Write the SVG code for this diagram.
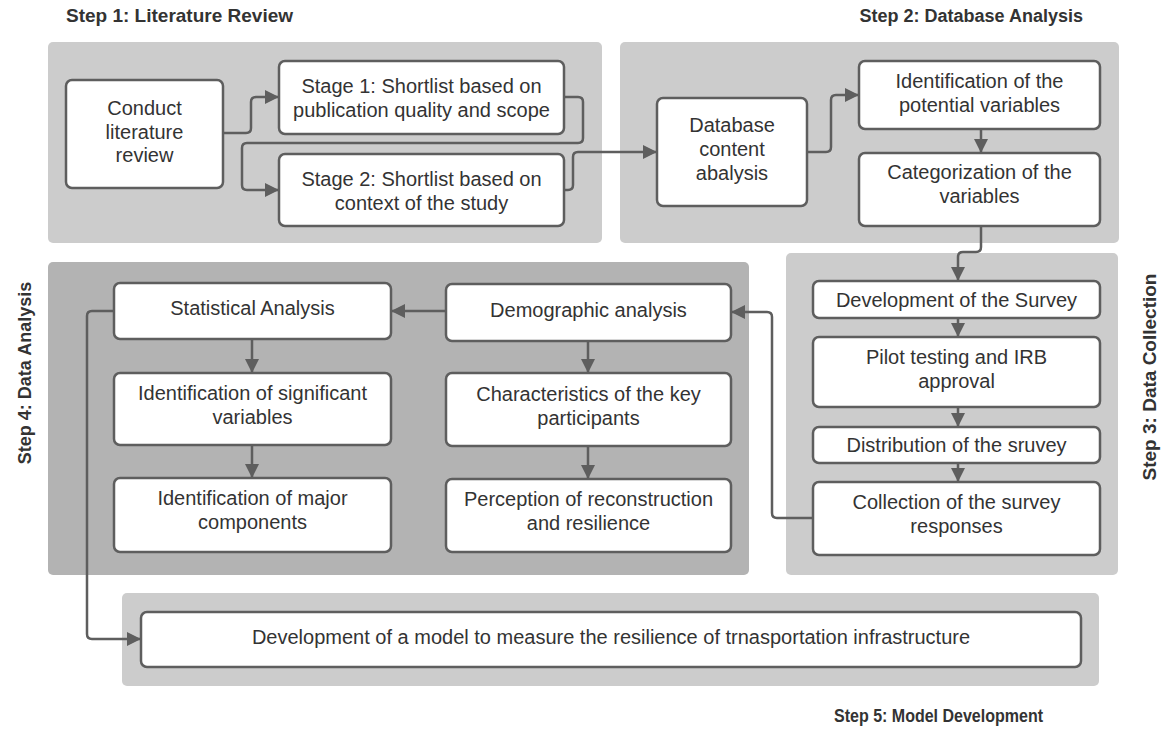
<svg xmlns="http://www.w3.org/2000/svg" width="1161" height="729" viewBox="0 0 1161 729">
  <style>
    .panel { fill: #cccccc; }
    .panel-dark { fill: #b3b3b3; }
    .box { fill: #ffffff; stroke: #5e5e5e; stroke-width: 2.5; }
    .label { font-family: "Liberation Sans", Arial, sans-serif; font-size: 20px; fill: #333333; text-anchor: middle; }
    .step { font-family: "Liberation Sans", Arial, sans-serif; font-size: 18px; font-weight: bold; fill: #333333; }
    .link { fill: none; stroke: #5e5e5e; stroke-width: 2.5; stroke-linejoin: round; marker-end: url(#arrow); }
  </style>
  <defs>
    <marker id="arrow" markerUnits="userSpaceOnUse" markerWidth="16" markerHeight="14" refX="14" refY="7" orient="auto">
      <path d="M0,0 L14,7 L0,14 Z" fill="#5e5e5e"/>
    </marker>
  </defs>

  <rect width="1161" height="729" fill="#ffffff"/>

  <!-- step panels -->
  <g id="panels">
    <rect class="panel" x="48" y="42" width="554" height="201" rx="5"/>
    <rect class="panel" x="620" y="42" width="499" height="201" rx="5"/>
    <rect class="panel-dark" x="48" y="262" width="701" height="313" rx="5"/>
    <rect class="panel" x="786" y="253" width="332" height="322" rx="5"/>
    <rect class="panel" x="122" y="593" width="977" height="93" rx="5"/>
  </g>

  <!-- step titles -->
  <g id="step-titles">
    <text class="step" x="66" y="22" style="font-size:19px">Step 1: Literature Review</text>
    <text class="step" x="1083" y="22" text-anchor="end">Step 2: Database Analysis</text>
    <text class="step" text-anchor="middle" transform="translate(1156,377) rotate(-90)" style="font-size:19px">Step 3: Data Collection</text>
    <text class="step" text-anchor="middle" transform="translate(31,373) rotate(-90)">Step 4: Data Analysis</text>
    <text class="step" x="834" y="722" textLength="209" lengthAdjust="spacingAndGlyphs">Step 5: Model Development</text>
  </g>

  <!-- connectors -->
  <g id="connectors">
    <path class="link" d="M223,133 H246 Q251,133 251,128 V102 Q251,97 256,97 H279"/>
    <path class="link" d="M564,97 H578 Q583,97 583,102 V138 Q583,143 578,143 H247 Q242,143 242,148 V185 Q242,190 247,190 H279"/>
    <path class="link" d="M564,190 H568 Q573,190 573,185 V157 Q573,152 578,152 H657"/>
    <path class="link" d="M807,152 H826 Q831,152 831,147 V100 Q831,95 836,95 H859"/>
    <path class="link" d="M981,129 V153"/>
    <path class="link" d="M981,226 V247 Q981,252 976,252 H963 Q958,252 958,257 V281"/>
    <path class="link" d="M958,318 V337"/>
    <path class="link" d="M958,407 V427"/>
    <path class="link" d="M958,463 V482"/>
    <path class="link" d="M813,518 H777 Q772,518 772,513 V317 Q772,312 767,312 H731"/>
    <path class="link" d="M446,311 H391"/>
    <path class="link" d="M252,339 V373"/>
    <path class="link" d="M252,445 V478"/>
    <path class="link" d="M588,341 V373"/>
    <path class="link" d="M588,446 V479"/>
    <path class="link" d="M114,311 H92 Q87,311 87,316 V634 Q87,639 92,639 H141"/>
  </g>

  <!-- step 1 nodes -->
  <g id="conduct-review">
    <rect class="box" x="66" y="80" width="157" height="108" rx="6"/>
    <text class="label" x="144.5" y="115">Conduct</text>
    <text class="label" x="144.5" y="138.5">literature</text>
    <text class="label" x="144.5" y="162">review</text>
  </g>
  <g id="stage-1">
    <rect class="box" x="279" y="61" width="285" height="73" rx="6"/>
    <text class="label" x="421.5" y="93">Stage 1: Shortlist based on</text>
    <text class="label" x="421.5" y="117">publication quality and scope</text>
  </g>
  <g id="stage-2">
    <rect class="box" x="279" y="154" width="285" height="72" rx="6"/>
    <text class="label" x="421.5" y="186">Stage 2: Shortlist based on</text>
    <text class="label" x="421.5" y="210">context of the study</text>
  </g>

  <!-- step 2 nodes -->
  <g id="database-content">
    <rect class="box" x="657" y="98" width="150" height="108" rx="6"/>
    <text class="label" x="732" y="132">Database</text>
    <text class="label" x="732" y="156">content</text>
    <text class="label" x="732" y="180">abalysis</text>
  </g>
  <g id="potential-variables">
    <rect class="box" x="859" y="61" width="241" height="68" rx="6"/>
    <text class="label" x="979.5" y="88">Identification of the</text>
    <text class="label" x="979.5" y="112">potential variables</text>
  </g>
  <g id="categorization">
    <rect class="box" x="859" y="153" width="241" height="73" rx="6"/>
    <text class="label" x="979.5" y="179">Categorization of the</text>
    <text class="label" x="979.5" y="203">variables</text>
  </g>

  <!-- step 3 nodes -->
  <g id="survey-development">
    <rect class="box" x="813" y="281" width="287" height="37" rx="6"/>
    <text class="label" x="956.5" y="307">Development of the Survey</text>
  </g>
  <g id="pilot-testing">
    <rect class="box" x="813" y="337" width="287" height="70" rx="6"/>
    <text class="label" x="956.5" y="364">Pilot testing and IRB</text>
    <text class="label" x="956.5" y="388">approval</text>
  </g>
  <g id="survey-distribution">
    <rect class="box" x="813" y="427" width="287" height="36" rx="6"/>
    <text class="label" x="956.5" y="452">Distribution of the sruvey</text>
  </g>
  <g id="response-collection">
    <rect class="box" x="813" y="482" width="287" height="73" rx="6"/>
    <text class="label" x="956.5" y="509">Collection of the survey</text>
    <text class="label" x="956.5" y="533">responses</text>
  </g>

  <!-- step 4 nodes -->
  <g id="statistical-analysis">
    <rect class="box" x="114" y="283" width="277" height="56" rx="6"/>
    <text class="label" x="252.5" y="315">Statistical Analysis</text>
  </g>
  <g id="significant-variables">
    <rect class="box" x="114" y="373" width="277" height="72" rx="6"/>
    <text class="label" x="252.5" y="400">Identification of significant</text>
    <text class="label" x="252.5" y="424">variables</text>
  </g>
  <g id="major-components">
    <rect class="box" x="114" y="478" width="277" height="74" rx="6"/>
    <text class="label" x="252.5" y="505">Identification of major</text>
    <text class="label" x="252.5" y="529">components</text>
  </g>
  <g id="demographic-analysis">
    <rect class="box" x="446" y="284" width="285" height="57" rx="6"/>
    <text class="label" x="588.5" y="317">Demographic analysis</text>
  </g>
  <g id="participant-characteristics">
    <rect class="box" x="446" y="373" width="285" height="73" rx="6"/>
    <text class="label" x="588.5" y="401">Characteristics of the key</text>
    <text class="label" x="588.5" y="425">participants</text>
  </g>
  <g id="perception">
    <rect class="box" x="446" y="479" width="285" height="73" rx="6"/>
    <text class="label" x="588.5" y="506">Perception of reconstruction</text>
    <text class="label" x="588.5" y="530">and resilience</text>
  </g>

  <!-- step 5 node -->
  <g id="resilience-model">
    <rect class="box" x="141" y="612" width="940" height="55" rx="6"/>
    <text class="label" x="611" y="644">Development of a model to measure the resilience of trnasportation infrastructure</text>
  </g>
</svg>
